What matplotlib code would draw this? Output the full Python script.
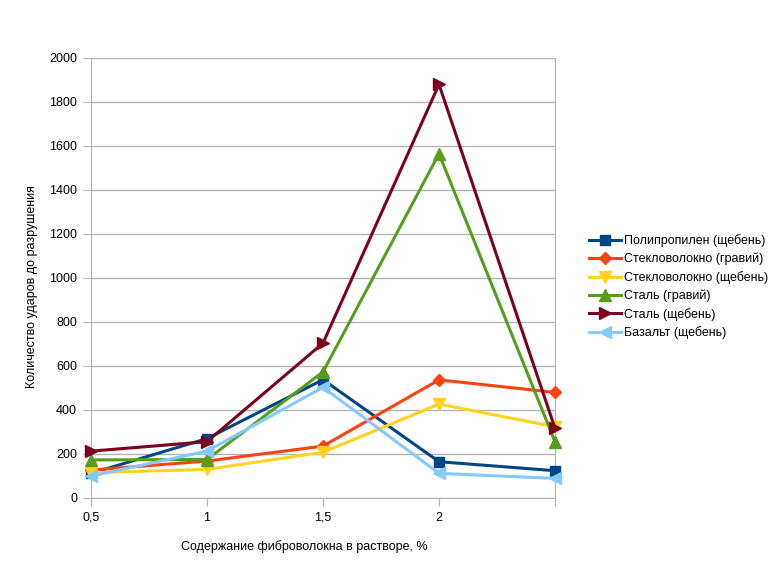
import matplotlib.pyplot as plt

x = [0.5, 1, 1.5, 2, 2.5]
x_ticks = [0.5, 1, 1.5, 2, 2.5]
x_labels = ['0,5', '1', '1,5', '2', '']

names = ['Полипропилен (щебень)', 'Стекловолокно (гравий)', 'Стекловолокно (щебень)',
         'Сталь (гравий)', 'Сталь (щебень)', 'Базальт (щебень)']
polyprop = [112, 270, 538, 165, 124]
glass_gravel = [127, 168, 236, 537, 480]
glass_rubble = [115, 130, 208, 427, 324]
steel_gravel = [173, 175, 573, 1565, 256]
steel_rubble = [213, 256, 704, 1880, 317]
basalt = [100, 213, 503, 112, 89]

series = [polyprop, glass_gravel, glass_rubble, steel_gravel, steel_rubble, basalt]
colors = ['#004586', '#ff420e', '#ffd320', '#579d1c', '#7e0021', '#83caff']
markers = ['s', 'D', 'v', '^', '>', '<']
msizes = [7, 6, 8, 8, 8, 8]

plt.rcParams['font.family'] = ['Liberation Sans', 'DejaVu Sans']

fig = plt.figure(figsize=(7.81, 5.71), dpi=100)
ax = fig.add_axes([91 / 781, 73 / 571, 464 / 781, 440 / 571])

for vals, name, c, m, ms in zip(series, names, colors, markers, msizes):
    ax.plot(x, vals, color=c, marker=m, markersize=ms, linewidth=2.2, label=name,
            clip_on=False, zorder=3)

ax.set_xlim(0.5, 2.5)
ax.set_ylim(0, 2000)
ax.set_xticks(x_ticks)
ax.set_xticklabels(x_labels)
ax.set_yticks(range(0, 2001, 200))
ax.grid(axis='y', color='#b3b3b3', linewidth=1)
ax.set_axisbelow(True)
ax.tick_params(colors='#b3b3b3', labelcolor='black', labelsize=9, length=6)
ax.tick_params(axis='x', pad=4)
ax.tick_params(axis='y', pad=4)
for s in ['left', 'bottom', 'right']:
    ax.spines[s].set_color('#b3b3b3')
ax.spines['top'].set_visible(False)

ax.set_xlabel('Содержание фиброволокна в растворе, %', fontsize=9)
ax.set_ylabel('Количество ударов до разрушения', fontsize=9)
ax.xaxis.set_label_coords(0.46, -0.095)
ax.yaxis.set_label_coords(-0.115, 0.48)

ax.legend(loc='center left', bbox_to_anchor=(1.05, 0.48), frameon=False, fontsize=9,
          handlelength=2.5, labelspacing=0.45, handletextpad=0.3)

fig.savefig('out.png', dpi=100)
